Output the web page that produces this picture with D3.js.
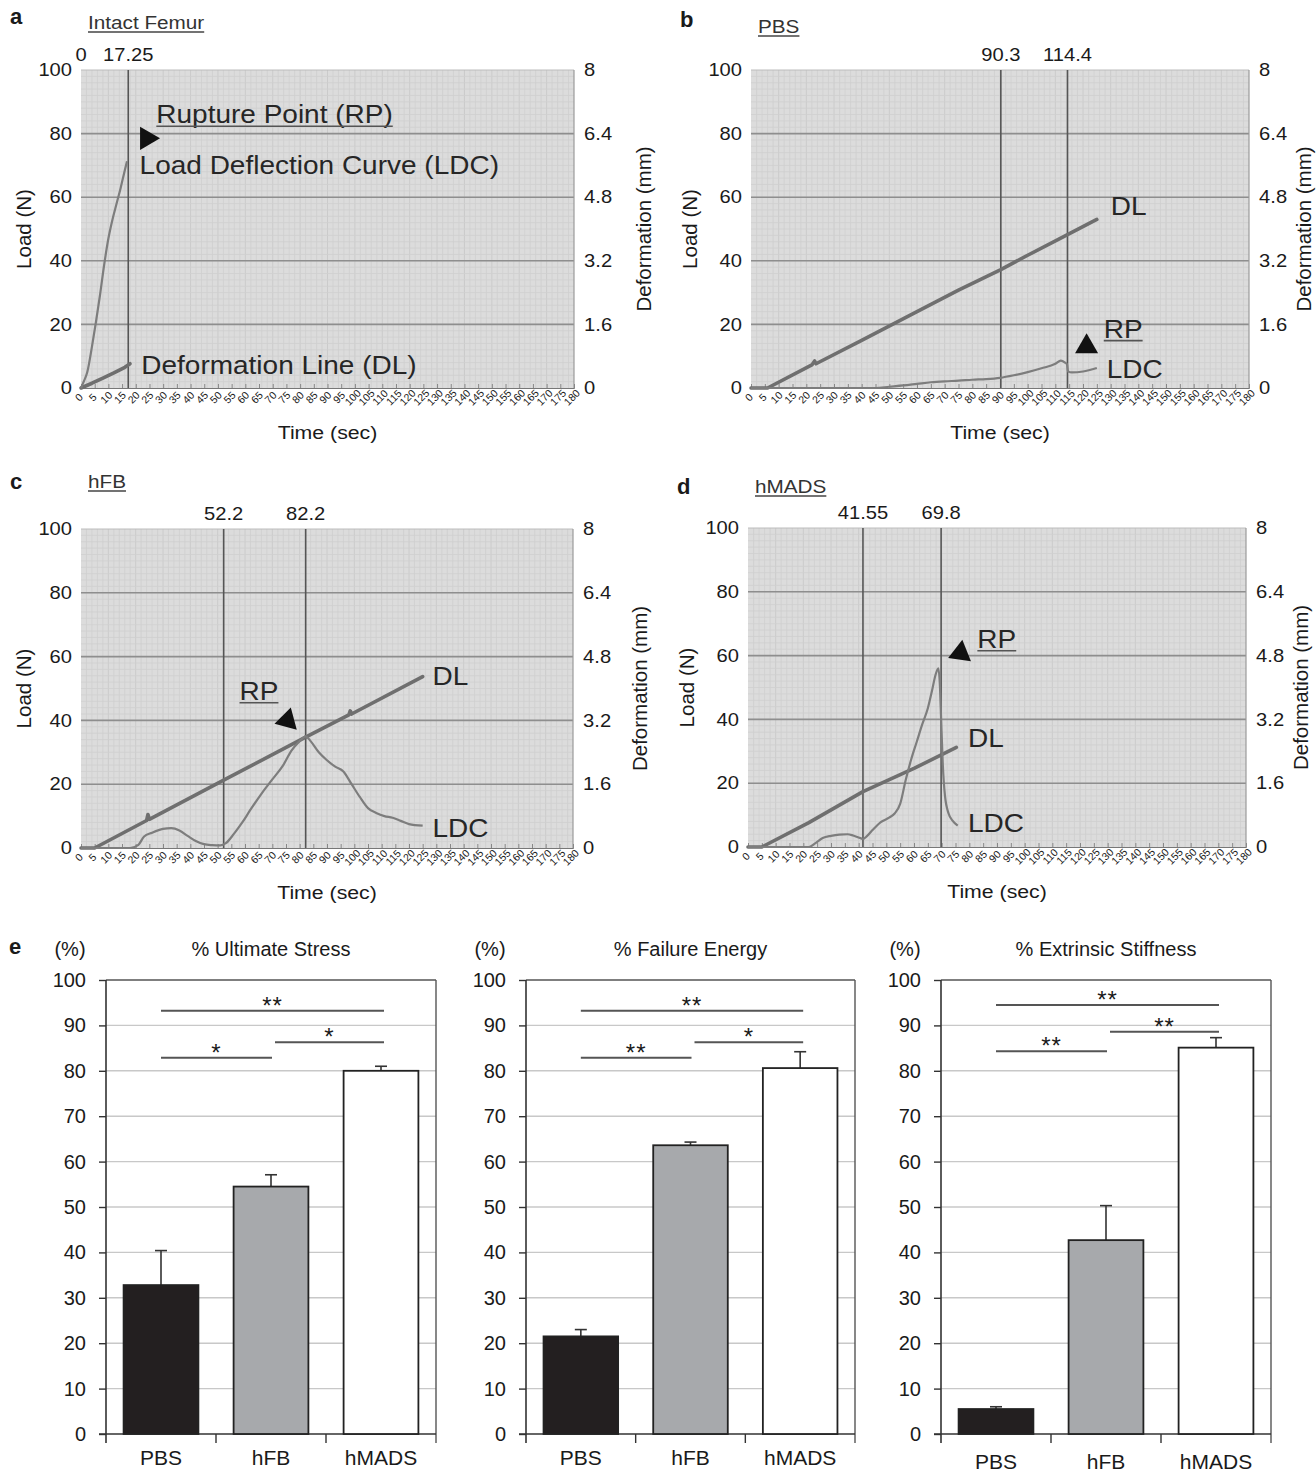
<!DOCTYPE html>
<html>
<head>
<meta charset="utf-8">
<script src="https://cdn.jsdelivr.net/npm/d3@7"></script>
<style>
  body { margin: 0; background: #fff; }
  svg { display: block; }
  text { font-family: "Liberation Sans", Arial, Helvetica, sans-serif; fill: #1a1a1a; }
</style>
</head>
<body>
<svg id="fig" width="1316" height="1476"></svg>
<script>
// ---- data: load/deformation recordings (time in sec, load in N, deformation in mm)
const loadTicks = [0, 20, 40, 60, 80, 100];
const deformTicks = [0, 1.6, 3.2, 4.8, 6.4, 8];
const timeTicks = [0, 5, 10, 15, 20, 25, 30, 35, 40, 45, 50, 55, 60, 65, 70, 75, 80, 85, 90,
  95, 100, 105, 110, 115, 120, 125, 130, 135, 140, 145, 150, 155, 160, 165, 170, 175, 180];

const panelLetters = ["a", "b", "c", "d"];
const panelTitles = ["Intact Femur", "PBS", "hFB", "hMADS"];
const markerTimes = [[0, 17.25], [90.3, 114.4], [52.2, 82.2], [41.55, 69.8]];
const markerLabels = [["0", "17.25"], ["90.3", "114.4"], ["52.2", "82.2"], ["41.55", "69.8"]];

const ldcA = [[0, 0], [1, 2], [2.3, 5], [4, 13], [5.5, 21], [6.9, 29], [8.5, 39], [10, 47],
  [11.5, 53], [13, 58], [14.5, 63], [16, 68.5], [16.8, 71.3]];
const dlA = [[0, 0], [4, 0.12], [8, 0.25], [12, 0.38], [16, 0.52], [17.9, 0.61]];

const ldcB = [[0, 0], [45, 0], [50, 0.4], [55, 0.8], [60, 1.3], [65, 1.8], [70, 2.1], [75, 2.3],
  [80, 2.6], [85, 2.8], [90, 3.2], [95, 4.0], [100, 5.0], [105, 6.2], [110, 7.6], [112, 8.6],
  [113.5, 8.0], [114.2, 7.5], [114.6, 5.2], [116, 4.9], [120, 5.2], [125, 6.3]];
const dlB = [[0, 0], [6, 0], [22, 0.58], [23, 0.68], [23.5, 0.61], [40, 1.2], [60, 1.92],
  [75, 2.46], [90.3, 2.98], [100, 3.34], [114.4, 3.86], [125, 4.24]];

const ldcC = [[0, 0], [18, 0], [21, 1], [23, 3.5], [26, 4.8], [30, 6], [33, 6.2], [36, 5.5],
  [39, 3.8], [42, 2.2], [45, 1.2], [48, 0.9], [51, 0.8], [53, 1.5], [56, 4.5], [59, 8], [62, 12],
  [66, 17], [70, 21.5], [74, 26], [77, 30.5], [80, 33.5], [82.2, 35], [84, 33.5], [87, 30],
  [90, 27.5], [93, 25.5], [96, 24], [99, 20], [102, 16], [105, 12.5], [108, 11], [111, 10],
  [114, 9.5], [117, 8.5], [120, 7.5], [125, 7]];
const dlC = [[0, 0], [5, 0], [24, 0.69], [24.5, 0.84], [25, 0.72], [52.2, 1.7], [82.2, 2.78],
  [98, 3.34], [98.5, 3.44], [99, 3.36], [125, 4.3]];

const ldcD = [[0, 0], [22, 0], [24, 1], [27, 2.8], [30, 3.5], [33, 3.9], [36, 4], [38, 3.6],
  [40, 3], [41.5, 2.5], [43, 3.4], [45, 5.3], [48, 7.8], [51, 9.2], [53, 10.5], [55, 13.5],
  [57, 21], [59, 27.5], [61, 33], [63, 38.5], [65, 43.5], [66.5, 49], [67.8, 54], [68.8, 56],
  [69.4, 50], [69.8, 40], [70.4, 26], [71.2, 16], [72.5, 10.5], [74, 8.2], [75.8, 6.7]];
const dlD = [[0, 0], [5, 0], [22, 0.61], [41.55, 1.39], [60, 1.97], [75.3, 2.5]];

// ---- data: mechanical properties (% of intact femur)
const groups = ["PBS", "hFB", "hMADS"];
const groupColors = ["#231f20", "#a7a9ac", "#ffffff"];
const percentTicks = [0, 10, 20, 30, 40, 50, 60, 70, 80, 90, 100];
const barTitles = ["% Ultimate Stress", "% Failure Energy", "% Extrinsic Stiffness"];
const ultimateStress = [32.8, 54.5, 80.0];
const ultimateStressErr = [7.6, 2.6, 1.0];
const failureEnergy = [21.5, 63.6, 80.6];
const failureEnergyErr = [1.5, 0.7, 3.6];
const extrinsicStiffness = [5.5, 42.7, 85.1];
const extrinsicStiffnessErr = [0.5, 7.6, 2.2];
const sigUltimate = [["PBS", "hMADS", "**", 93.2], ["PBS", "hFB", "*", 82.9], ["hFB", "hMADS", "*", 86.3]];
const sigFailure = [["PBS", "hMADS", "**", 93.2], ["PBS", "hFB", "**", 82.9], ["hFB", "hMADS", "*", 86.3]];
const sigStiffness = [["PBS", "hMADS", "**", 94.5], ["PBS", "hFB", "**", 84.3], ["hFB", "hMADS", "**", 88.6]];

const svg = d3.select("#fig");
const SX = 1.12; // the scanned curve panels are slightly stretched sideways

function addText(g, x, y, str, size, opts = {}) {
  const sx = opts.sx || 1;
  const t = g.append("text")
    .attr("transform", `translate(${x},${y}) rotate(${opts.rot || 0}) scale(${sx},1)`)
    .attr("font-size", size)
    .attr("text-anchor", opts.anchor || "start")
    .text(str);
  if (opts.dy) t.attr("dy", opts.dy);
  if (opts.bold) t.attr("font-weight", "bold");
  if (opts.fill) t.style("fill", opts.fill);
  if (opts.spacing) t.attr("letter-spacing", opts.spacing);
  return t;
}

function underline(g, t, x, baseY, sx, color) {
  const w = t.node().getComputedTextLength() * sx;
  g.append("line")
    .attr("x1", x).attr("x2", x + w)
    .attr("y1", baseY + 3).attr("y2", baseY + 3)
    .attr("stroke", color).attr("stroke-width", 1.6);
}

const curvePanels = [
  { left: 81, right: 574, top: 70, bottom: 388, ldc: ldcA, dl: dlA,
    letterY: 24, titleY: 29, loadOff: 57, defOff: 70,
    notes: [
      { t: 27.5, v: 86, s: "Rupture Point (RP)", u: true },
      { t: 21.4, v: 70, s: "Load Deflection Curve (LDC)" },
      { t: 22, v: 7.3, s: "Deformation Line (DL)" }],
    tri: { t: 24, v: 78.5, rot: 90 } },
  { left: 751, right: 1249, top: 70, bottom: 388, ldc: ldcB, dl: dlB,
    letterY: 27, titleY: 33, loadOff: 61, defOff: 55,
    notes: [
      { t: 130, v: 57, s: "DL" },
      { t: 127.5, v: 18.6, s: "RP", u: true },
      { t: 128.6, v: 6, s: "LDC" }],
    tri: { t: 121.3, v: 13, rot: 0 } },
  { left: 81, right: 573, top: 529, bottom: 848, ldc: ldcC, dl: dlC,
    letterY: 489, titleY: 488, loadOff: 57, defOff: 67,
    notes: [
      { t: 58, v: 49.2, s: "RP", u: true },
      { t: 128.6, v: 53.8, s: "DL" },
      { t: 128.6, v: 6.2, s: "LDC" }],
    tri: { t: 75.5, v: 40, rot: 135 } },
  { left: 748, right: 1246, top: 528, bottom: 847, ldc: ldcD, dl: dlD,
    letterY: 494, titleY: 493, loadOff: 61, defOff: 55,
    notes: [
      { t: 82.9, v: 65.2, s: "RP", u: true },
      { t: 79.5, v: 34, s: "DL" },
      { t: 79.5, v: 7.5, s: "LDC" }],
    tri: { t: 76.8, v: 60.8, rot: 8 } }
];

function drawCurvePanel(p, i) {
  const g = svg.append("g");
  const x = d3.scaleLinear().domain([0, 180]).range([p.left, p.right]);
  const y = d3.scaleLinear().domain([0, 100]).range([p.bottom, p.top]);
  const yMm = d3.scaleLinear().domain([0, 8]).range([p.bottom, p.top]);

  // chart paper
  g.append("rect")
    .attr("x", p.left).attr("y", p.top)
    .attr("width", p.right - p.left).attr("height", p.bottom - p.top)
    .attr("fill", "#dcdcdc");
  g.append("g").selectAll("line").data(d3.range(2, 180, 2)).enter().append("line")
    .attr("x1", d => x(d)).attr("x2", d => x(d))
    .attr("y1", p.top).attr("y2", p.bottom)
    .attr("stroke", d => d % 10 === 0 ? "#c6c6c6" : "#cfcfcf").attr("stroke-width", 0.8);
  g.append("g").selectAll("line").data(d3.range(2, 100, 2)).enter().append("line")
    .attr("x1", p.left).attr("x2", p.right)
    .attr("y1", d => y(d)).attr("y2", d => y(d))
    .attr("stroke", "#cfcfcf").attr("stroke-width", 0.8);
  g.append("g").selectAll("line").data(loadTicks.slice(1, -1)).enter().append("line")
    .attr("x1", p.left).attr("x2", p.right)
    .attr("y1", d => y(d)).attr("y2", d => y(d))
    .attr("stroke", "#8e8e8e").attr("stroke-width", 1.6);
  g.append("line").attr("x1", p.left).attr("x2", p.right)
    .attr("y1", p.top).attr("y2", p.top).attr("stroke", "#bcbcbc").attr("stroke-width", 1);
  g.append("line").attr("x1", p.right).attr("x2", p.right)
    .attr("y1", p.top).attr("y2", p.bottom).attr("stroke", "#9a9a9a").attr("stroke-width", 1.2);

  // axes
  const axL = g.append("g").attr("transform", `translate(${p.left},0)`)
    .call(d3.axisLeft(y).tickValues(loadTicks).tickSize(0).tickPadding(8));
  axL.select(".domain").remove();
  axL.selectAll("text").attr("font-size", 18).style("font-family", null)
    .attr("transform", `scale(${SX},1)`);

  const axR = g.append("g").attr("transform", `translate(${p.right},0)`)
    .call(d3.axisRight(yMm).tickValues(deformTicks).tickSize(0).tickPadding(9)
      .tickFormat(d => d === 0 || d === 8 ? d3.format("d")(d) : d3.format(".1f")(d)));
  axR.select(".domain").remove();
  axR.selectAll("text").attr("font-size", 18).style("font-family", null)
    .attr("transform", `scale(${SX},1)`);

  const axB = g.append("g").attr("transform", `translate(0,${p.bottom})`)
    .call(d3.axisBottom(x).tickValues(timeTicks).tickSize(-4).tickPadding(0));
  axB.select(".domain").attr("stroke", "#777");
  axB.selectAll(".tick line").attr("stroke", "#888");
  axB.selectAll("text")
    .attr("font-size", 10.5).style("font-family", null)
    .attr("text-anchor", "middle")
    .attr("dy", 0).attr("y", 0)
    .attr("transform", "translate(0,12) rotate(-45)");

  // axis titles
  addText(g, (p.left + p.right) / 2, p.bottom + 51, "Time (sec)", 19, { anchor: "middle", sx: SX });
  addText(g, p.left - p.loadOff, (p.top + p.bottom) / 2, "Load (N)", 20.5, { anchor: "middle", rot: -90, dy: "0.35em" });
  addText(g, p.right + p.defOff, (p.top + p.bottom) / 2, "Deformation (mm)", 20.5, { anchor: "middle", rot: -90, dy: "0.35em" });

  // event markers
  markerTimes[i].forEach((tm, k) => {
    if (tm > 0) {
      g.append("line").attr("x1", x(tm)).attr("x2", x(tm))
        .attr("y1", p.top).attr("y2", p.bottom)
        .attr("stroke", "#555").attr("stroke-width", 1.6);
    }
    addText(g, x(tm), p.top - 9, markerLabels[i][k], 18, { anchor: "middle", sx: SX });
  });

  // recordings
  const lineLdc = d3.line().x(d => x(d[0])).y(d => y(d[1])).curve(d3.curveMonotoneX);
  const lineDl = d3.line().x(d => x(d[0])).y(d => yMm(d[1])).curve(d3.curveLinear);
  g.append("path").datum(p.dl).attr("d", lineDl)
    .attr("fill", "none").attr("stroke", "#6f6f6f").attr("stroke-width", 3.6)
    .attr("stroke-linejoin", "round").attr("stroke-linecap", "round");
  g.append("path").datum(p.ldc).attr("d", lineLdc)
    .attr("fill", "none").attr("stroke", "#7d7d7d").attr("stroke-width", 2.2)
    .attr("stroke-linejoin", "round");

  // annotations
  p.notes.forEach(n => {
    const t = addText(g, x(n.t), y(n.v), n.s, 25, { dy: "0.35em", fill: "#262626", sx: SX });
    if (n.u) underline(g, t, x(n.t), y(n.v) + 25 * 0.35, SX, "#555");
  });
  g.append("path")
    .attr("d", d3.symbol(d3.symbolTriangle).size(230)())
    .attr("transform", `translate(${x(p.tri.t)},${y(p.tri.v)}) rotate(${p.tri.rot})`)
    .attr("fill", "#111");

  // panel letter and title
  addText(g, p.left - 71, p.letterY, panelLetters[i], 22, { bold: true });
  const tt = addText(g, p.left + 7, p.titleY, panelTitles[i], 18.5, { fill: "#333", sx: SX });
  underline(g, tt, p.left + 7, p.titleY, SX, "#444");
}

curvePanels.forEach(drawCurvePanel);

// ---- bar charts
const barPanels = [
  { title: barTitles[0], values: ultimateStress, errs: ultimateStressErr, sig: sigUltimate,
    left: 106, right: 436, top: 980, bottom: 1434, labelY: 1465 },
  { title: barTitles[1], values: failureEnergy, errs: failureEnergyErr, sig: sigFailure,
    left: 526, right: 855, top: 980, bottom: 1434, labelY: 1465 },
  { title: barTitles[2], values: extrinsicStiffness, errs: extrinsicStiffnessErr, sig: sigStiffness,
    left: 941, right: 1271, top: 980, bottom: 1434, labelY: 1469 }
];

function drawBarPanel(p, i) {
  const g = svg.append("g");
  const x = d3.scaleBand().domain(groups).range([p.left, p.right])
    .paddingInner(0.32).paddingOuter(0.16);
  const y = d3.scaleLinear().domain([0, 100]).range([p.bottom, p.top]);
  const step = x.step();
  const cx = d => x(d) + x.bandwidth() / 2;

  // gridlines
  g.append("g").selectAll("line").data(percentTicks.slice(1, -1)).enter().append("line")
    .attr("x1", p.left).attr("x2", p.right)
    .attr("y1", d => y(d)).attr("y2", d => y(d))
    .attr("stroke", "#c8c8c8").attr("stroke-width", 1.4);
  // box
  g.append("line").attr("x1", p.left).attr("x2", p.right)
    .attr("y1", p.top).attr("y2", p.top).attr("stroke", "#555").attr("stroke-width", 1.4);
  g.append("line").attr("x1", p.right).attr("x2", p.right)
    .attr("y1", p.top).attr("y2", p.bottom + 9).attr("stroke", "#555").attr("stroke-width", 1.4);

  const axL = g.append("g").attr("transform", `translate(${p.left},0)`)
    .call(d3.axisLeft(y).tickValues(percentTicks).tickSize(7).tickPadding(13));
  axL.select(".domain").attr("stroke", "#333").attr("stroke-width", 1.6)
    .attr("d", `M0,${p.top}V${p.bottom + 9}`);
  axL.selectAll(".tick line").attr("stroke", "#333").attr("stroke-width", 1.4);
  axL.selectAll("text").attr("font-size", 20).style("font-family", null);

  // baseline and category separators
  g.append("line").attr("x1", p.left - 7).attr("x2", p.right)
    .attr("y1", p.bottom).attr("y2", p.bottom).attr("stroke", "#333").attr("stroke-width", 1.6);
  g.append("g").selectAll("line").data(groups.slice(1)).enter().append("line")
    .attr("x1", d => x(d) - (step - x.bandwidth()) / 2).attr("x2", d => x(d) - (step - x.bandwidth()) / 2)
    .attr("y1", p.bottom).attr("y2", p.bottom + 9)
    .attr("stroke", "#333").attr("stroke-width", 1.4);

  // error bars (upper half only)
  const eb = g.append("g").selectAll("g").data(groups).enter().append("g");
  eb.append("line")
    .attr("x1", cx).attr("x2", cx)
    .attr("y1", (d, k) => y(p.values[k])).attr("y2", (d, k) => y(p.values[k] + p.errs[k]))
    .attr("stroke", "#333").attr("stroke-width", 1.6);
  eb.append("line")
    .attr("x1", d => cx(d) - 6).attr("x2", d => cx(d) + 6)
    .attr("y1", (d, k) => y(p.values[k] + p.errs[k])).attr("y2", (d, k) => y(p.values[k] + p.errs[k]))
    .attr("stroke", "#333").attr("stroke-width", 1.6);

  // bars
  g.append("g").selectAll("rect").data(groups).enter().append("rect")
    .attr("x", d => x(d)).attr("width", x.bandwidth())
    .attr("y", (d, k) => y(p.values[k]))
    .attr("height", (d, k) => p.bottom - y(p.values[k]))
    .attr("fill", (d, k) => groupColors[k])
    .attr("stroke", "#222").attr("stroke-width", 1.8);

  // category labels
  groups.forEach(d => addText(g, cx(d), p.labelY, d, 21, { anchor: "middle" }));

  // significance lines
  p.sig.forEach(s => {
    const a = groups.indexOf(s[0]), b = groups.indexOf(s[1]);
    const x1 = cx(s[0]) + (a === 1 ? 4 : 0);
    const x2 = cx(s[1]) + (b === 2 ? 3 : 1);
    g.append("line").attr("x1", x1).attr("x2", x2)
      .attr("y1", y(s[3])).attr("y2", y(s[3]))
      .attr("stroke", "#555").attr("stroke-width", 2);
    addText(g, (x1 + x2) / 2, y(s[3]) + 3, s[2], 24, { anchor: "middle", spacing: 1 });
  });

  // titles
  addText(g, (p.left + p.right) / 2, 956, p.title, 20, { anchor: "middle" });
  addText(g, p.left - 36, 956, "(%)", 20, { anchor: "middle" });
  if (i === 0) addText(g, 9, 954, "e", 22, { bold: true });
}

barPanels.forEach(drawBarPanel);
</script>
</body>
</html>
